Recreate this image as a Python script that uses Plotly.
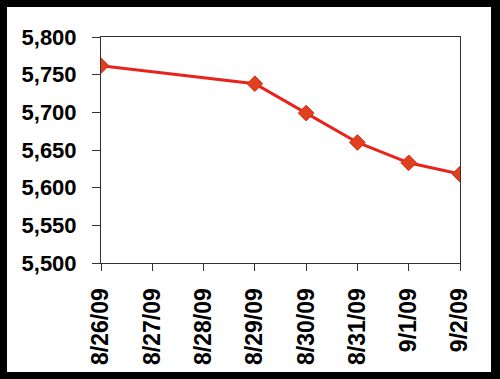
import plotly.graph_objects as go

dates = ["2009-08-26", "2009-08-29", "2009-08-30", "2009-08-31", "2009-09-01", "2009-09-02"]
values = [5762, 5738, 5699, 5660, 5633, 5618]
y_ticks = [5500, 5550, 5600, 5650, 5700, 5750, 5800]

W, H = 500, 379
L, R, T, B = 101, 40, 37, 116
pw, ph = W - L - R, H - T - B

fig = go.Figure()
fig.add_trace(go.Scatter(
    x=dates, y=values, mode="lines+markers",
    line=dict(color="#E8231B", width=3),
    marker=dict(symbol="diamond", size=12, color="#E0401E",
                line=dict(color="#D82A18", width=1)),
    showlegend=False,
))

# white inner panel inside black frame
fig.add_shape(type="rect", xref="paper", yref="paper", layer="below",
              x0=(7 - L) / pw, x1=(491 - L) / pw,
              y0=(T + ph - 372) / ph, y1=(T + ph - 7) / ph,
              fillcolor="white", line=dict(width=0))

font = "Liberation Sans, Arial, sans-serif"
fig.update_layout(
    width=W, height=H,
    margin=dict(l=L, r=R, t=T, b=B, pad=0),
    paper_bgcolor="black", plot_bgcolor="white",
    xaxis=dict(
        type="date", range=["2009-08-26", "2009-09-02"],
        dtick=86400000, tick0="2009-08-26", tickformat="%-m/%-d/%y",
        tickangle=-90, showgrid=False, zeroline=False,
        showline=True, linecolor="#333", linewidth=1, mirror=True,
        ticks="outside", ticklen=7, tickcolor="#333",
        ticklabelstandoff=8,
        tickfont=dict(family=font, size=23, color="black", weight="bold"),
    ),
    yaxis=dict(
        range=[5500, 5800], tickvals=y_ticks,
        tickformat=",d", showgrid=False, zeroline=False,
        showline=True, linecolor="#333", linewidth=1, mirror=True,
        ticks="outside", ticklen=8, tickcolor="#333",
        ticklabelstandoff=11,
        tickfont=dict(family=font, size=22, color="black", weight="bold"),
    ),
)

fig.write_html("out.html")
